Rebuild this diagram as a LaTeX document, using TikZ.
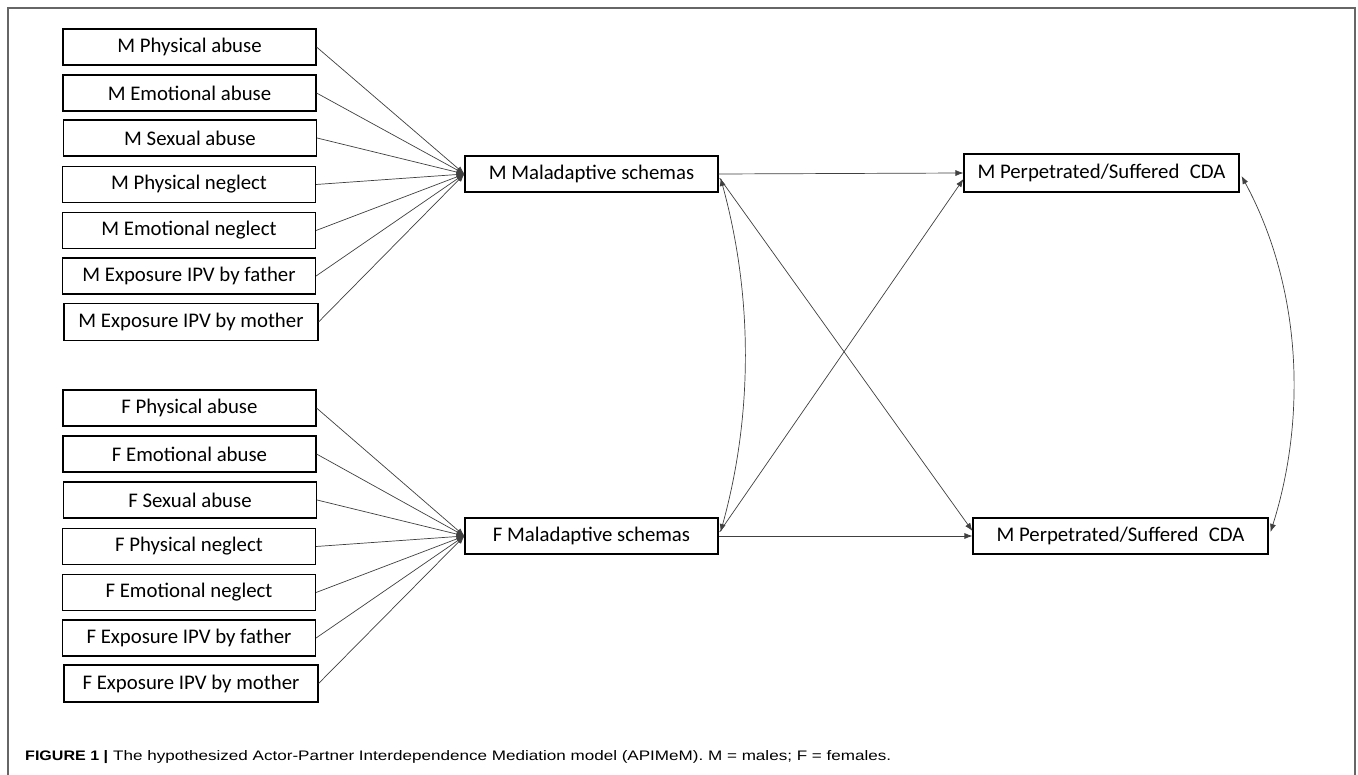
\documentclass[tikz,border=0pt]{standalone}
\usepackage{fontspec}
\setmainfont{Carlito}
\newfontfamily\capfont{Liberation Sans}
\usetikzlibrary{arrows.meta,calc}
\begin{document}
\begin{tikzpicture}[x=1pt,y=-1pt,
  box/.style={draw=black,line width=1.1pt,inner sep=0pt,minimum height=36pt,
    font=\fontsize{20.8pt}{24pt}\selectfont,anchor=center},
  inbox/.style={box,minimum width=253pt},
  conn/.style={draw=black!75,line width=0.7pt,-{Latex[length=8pt,width=6pt]}},
  dconn/.style={draw=black!75,line width=0.7pt,{Latex[length=8pt,width=6pt]}-{Latex[length=8pt,width=6pt]}},
  frameline/.style={draw=black!60,line width=1.5pt}]
\useasboundingbox (0,0) rectangle (1358,775);
\fill[white] (0,0) rectangle (1358,775);
% frame
\coordinate (fbl) at (8,775);
\coordinate (ftl) at (8,8);
\coordinate (ftr) at (1355,8);
\coordinate (fbr) at (1355,775);
\draw[frameline] (fbl) -- (ftl) -- (ftr) -- (fbr);
% M inputs
\node[inbox] (m1) at (189.5,47) {M Physical abuse};
\node[inbox] (m2) at (189.5,93) {M Emotional abuse};
\node[inbox] (m3) at (190,138) {M Sexual abuse};
\node[inbox] (m4) at (189,184.5) {M Physical neglect};
\node[inbox] (m5) at (189,230.5) {M Emotional neglect};
\node[inbox] (m6) at (189,276) {M Exposure IPV by father};
\node[inbox,minimum width=254pt,minimum height=37pt] (m7) at (191,322) {M Exposure IPV by mother};
% F inputs
\node[inbox] (f1) at (189.5,408) {F Physical abuse};
\node[inbox] (f2) at (189.5,454) {F Emotional abuse};
\node[inbox] (f3) at (190,500) {F Sexual abuse};
\node[inbox] (f4) at (189,546.5) {F Physical neglect};
\node[inbox] (f5) at (189,592.5) {F Emotional neglect};
\node[inbox] (f6) at (189,638) {F Exposure IPV by father};
\node[inbox,minimum width=254pt,minimum height=37pt] (f7) at (191,683.5) {F Exposure IPV by mother};
% mediators
\node[box,minimum width=253pt] (mmal) at (591.5,174) {M Maladaptive schemas};
\node[box,minimum width=253pt] (fmal) at (591.5,536) {F Maladaptive schemas};
% outcomes
\node[box,minimum width=275pt,minimum height=38pt] (mperp) at (1101.5,173) {M Perpetrated/Suffered\enspace CDA};
\node[box,minimum width=295pt] (fperp) at (1120.5,536) {M Perpetrated/Suffered\enspace CDA};
% input paths
\foreach \i in {1,...,7}{
  \draw[conn] (m\i.east) -- (mmal.west);
  \draw[conn] (f\i.east) -- (fmal.west);
}
% actor paths
\draw[conn] (mmal.east) -- (mperp.west);
\draw[conn] (fmal.east) -- (fperp.west);
% partner paths
\draw[conn] ($(mmal.east)+(1,4)$) -- ($(fperp.west)+(0,-5)$);
\draw[conn] ($(fmal.east)+(1,-4)$) -- ($(mperp.west)+(0,6)$);
% covariances
\draw[dconn] ($(mmal.east)+(2,4)$) .. controls (753,296) and (753,415) .. ($(fmal.east)+(2,-4)$);
\draw[dconn] ($(mperp.east)+(2,3)$) .. controls (1303,290) and (1306,420) .. ($(fperp.east)+(2,-4)$);
% caption
\node[anchor=base west,inner sep=0pt] (cap) at (25,760) {\capfont\fontsize{13pt}{15pt}\selectfont\resizebox{83pt}{10pt}{\textbf{FIGURE 1 |}}\hspace{5pt}\resizebox{778pt}{10pt}{The hypothesized Actor-Partner Interdependence Mediation model (APIMeM). M = males; F = females.}};
\end{tikzpicture}
\end{document}
